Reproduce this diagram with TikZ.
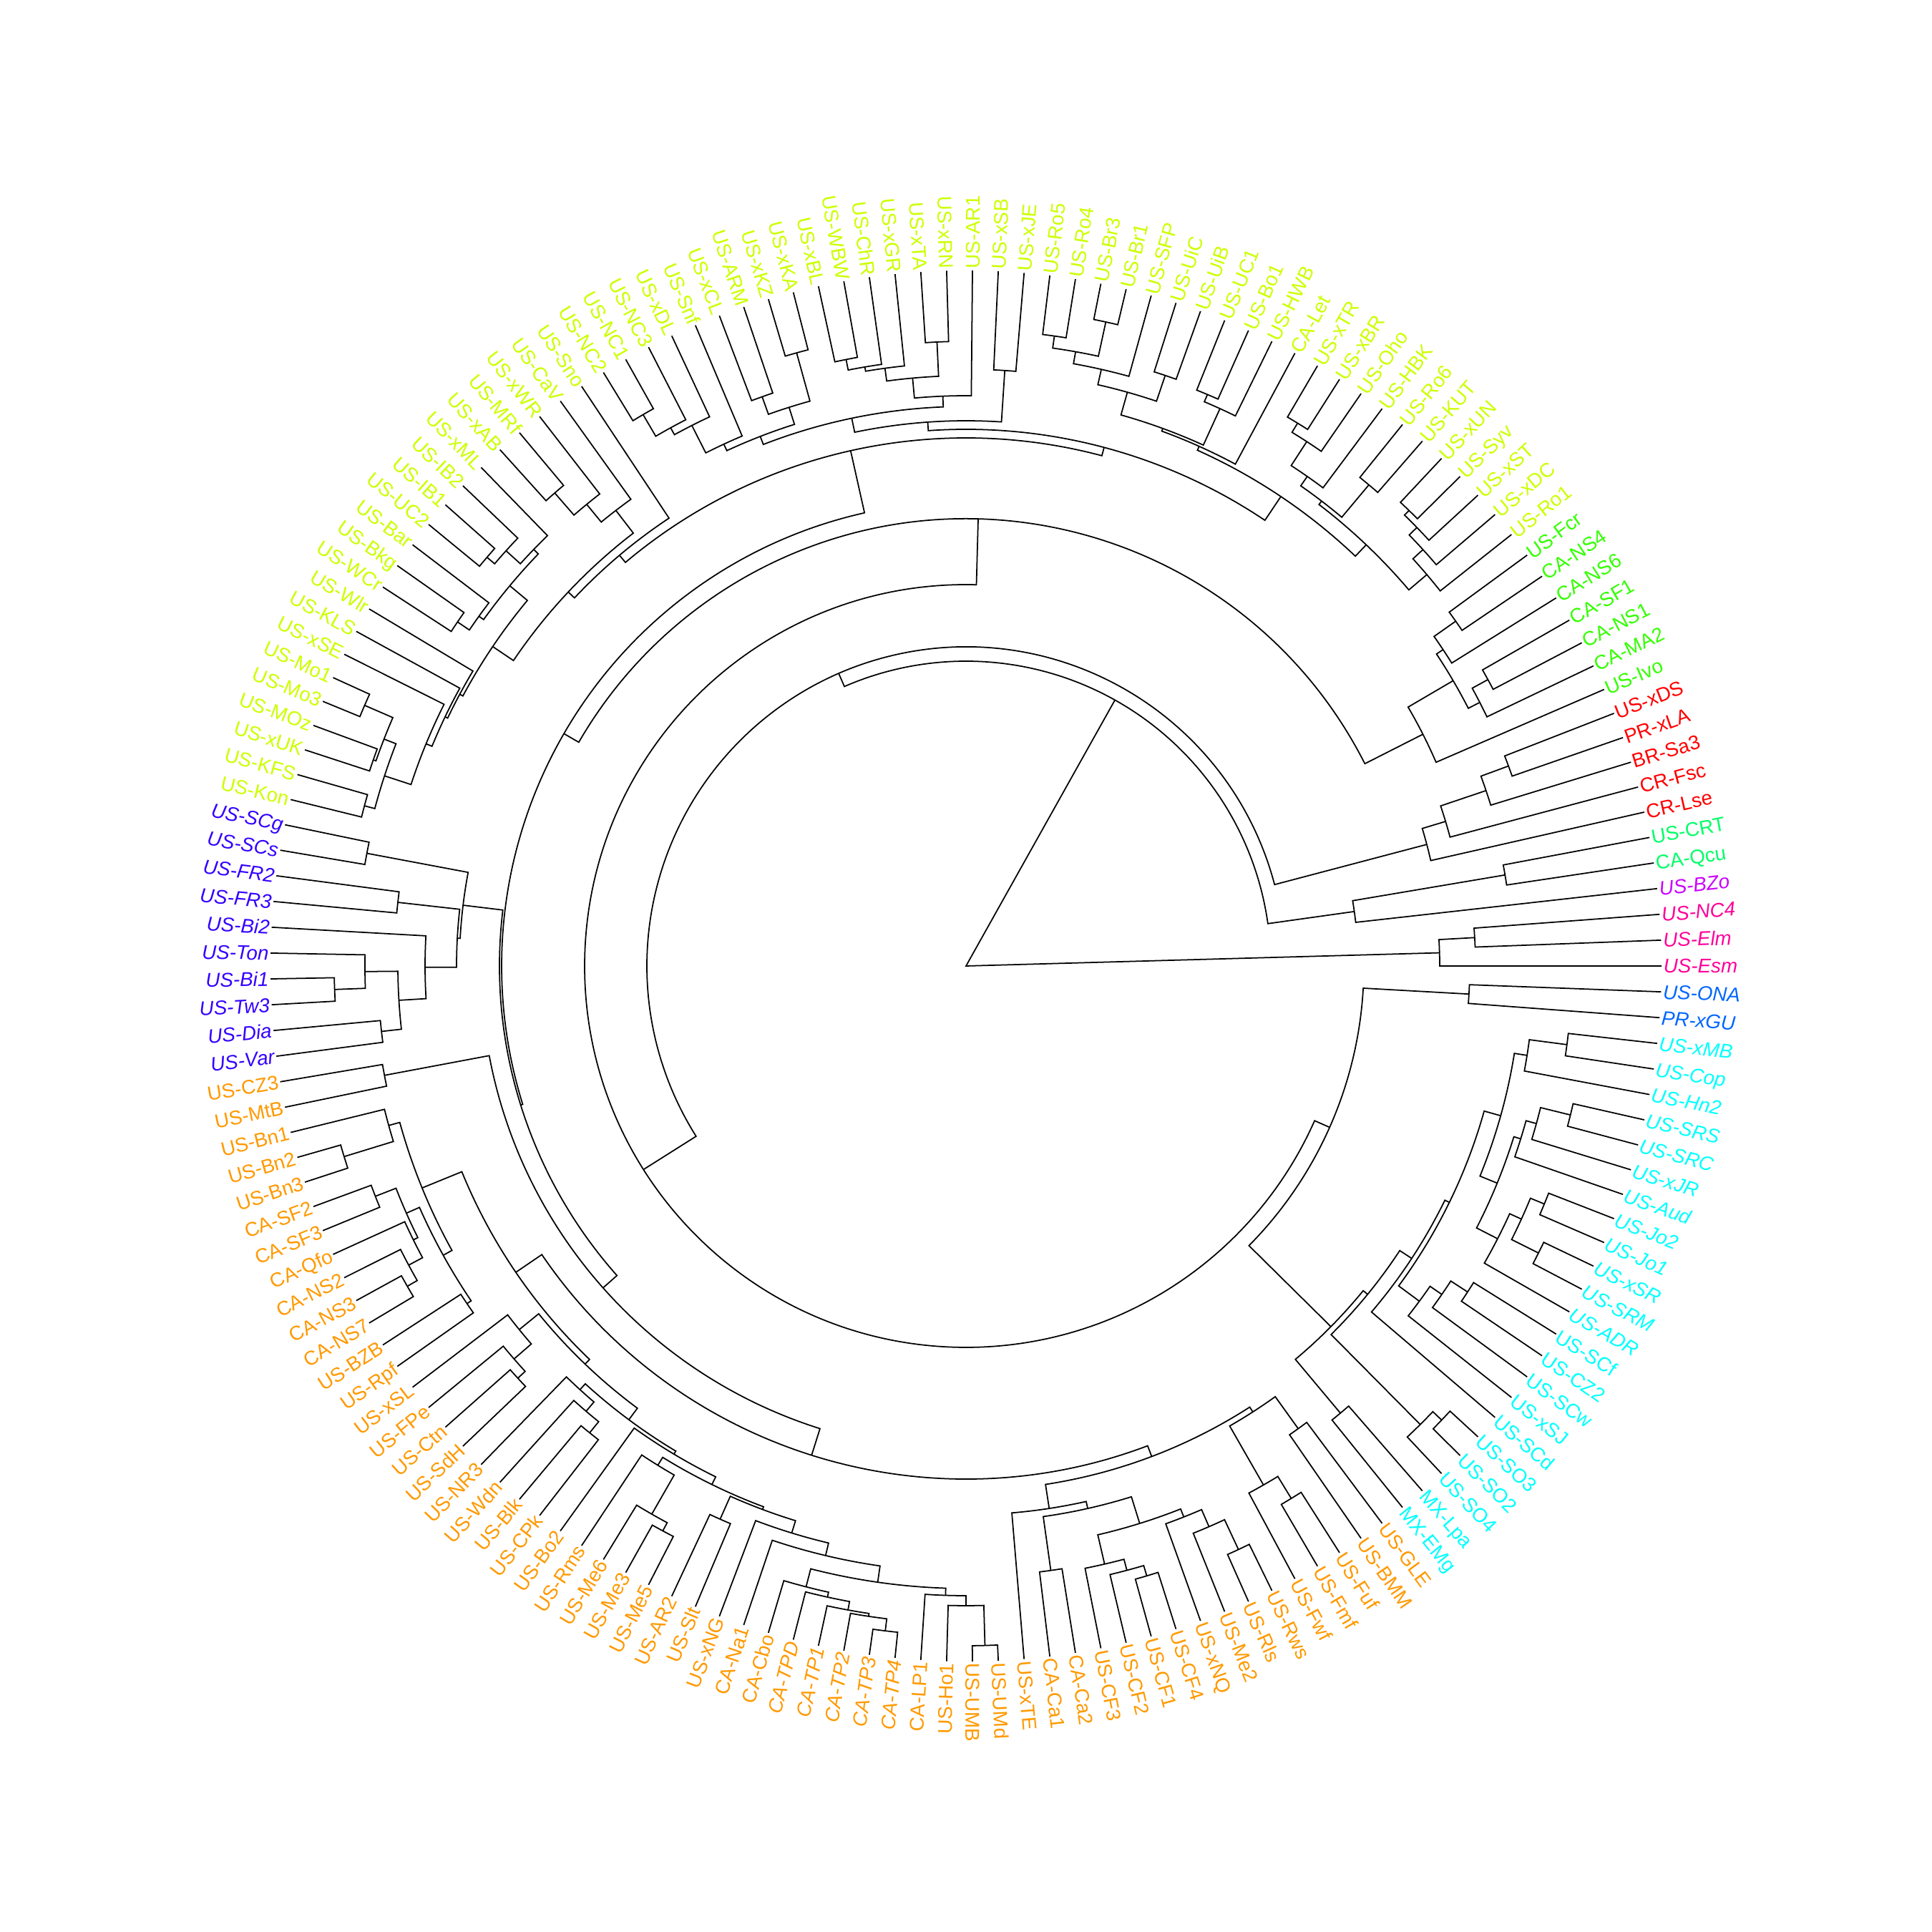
\documentclass[tikz,border=0pt]{standalone}
\usepackage{fontspec}
\setmainfont{Liberation Sans}
\definecolor{redR}{HTML}{FF0000}
\definecolor{orangeR}{HTML}{FF9900}
\definecolor{limeR}{HTML}{CCFF00}
\definecolor{greenR}{HTML}{33FF00}
\definecolor{springR}{HTML}{00FF66}
\definecolor{cyanR}{HTML}{00FFFF}
\definecolor{azureR}{HTML}{0066FF}
\definecolor{blueR}{HTML}{3300FF}
\definecolor{violetR}{HTML}{CC00FF}
\definecolor{pinkR}{HTML}{FF0099}
\tikzset{
  branch/.style={line width=0.5pt, black},
  lblup/.style={inner xsep=0.6pt, inner ysep=0pt, text height=5.66pt, text depth=0pt,
    font=\fontsize{7.9}{9}\selectfont},
  lblit/.style={lblup, font=\fontsize{7.9}{9}\selectfont\itshape},
}
\newcommand\leafrad{9.72}
% tip: name, index, colour, style, text
\newcommand\tip[5]{%
  \pgfmathsetmacro\tipang{#2*2.13017751}%
  \expandafter\xdef\csname ang@#1\endcsname{\tipang}%
  \coordinate (#1) at (\tipang:\leafrad);
  \ifdim\tipang pt>90pt \ifdim\tipang pt<270pt
    \node[#4, text=#3, anchor=east, rotate=\tipang+180] (#1-l) at (#1) {#5};
  \else
    \node[#4, text=#3, anchor=west, rotate=\tipang] (#1-l) at (#1) {#5};
  \fi \else
    \node[#4, text=#3, anchor=west, rotate=\tipang] (#1-l) at (#1) {#5};
  \fi}
% clade: name, child, child, radius in px
\newcommand\clade[4]{%
  \edef\angA{\csname ang@#2\endcsname}%
  \edef\angB{\csname ang@#3\endcsname}%
  \pgfmathsetmacro\radN{#4/100}%
  \pgfmathsetmacro\angN{(\angA+\angB)/2}%
  \draw[branch] (#2) -- (\angA:\radN) arc[start angle=\angA, end angle=\angB, radius=\radN] -- (#3);
  \expandafter\xdef\csname ang@#1\endcsname{\angN}%
  \coordinate (#1) at (\angN:\radN);}

\begin{document}
\begin{tikzpicture}
\useasboundingbox (-13.5,-13.5) rectangle (13.5,13.5);
% tips
\tip{Esm}{0}{pinkR}{lblit}{US-Esm}
\tip{Elm}{1}{pinkR}{lblit}{US-Elm}
\tip{NC4}{2}{pinkR}{lblit}{US-NC4}
\tip{BZo}{3}{violetR}{lblit}{US-BZo}
\tip{Qcu}{4}{springR}{lblup}{CA-Qcu}
\tip{CRT}{5}{springR}{lblup}{US-CRT}
\tip{Lse}{6}{redR}{lblup}{CR-Lse}
\tip{Fsc}{7}{redR}{lblup}{CR-Fsc}
\tip{Sa3}{8}{redR}{lblup}{BR-Sa3}
\tip{xLA}{9}{redR}{lblup}{PR-xLA}
\tip{xDS}{10}{redR}{lblup}{US-xDS}
\tip{Ivo}{11}{greenR}{lblup}{US-Ivo}
\tip{MA2}{12}{greenR}{lblup}{CA-MA2}
\tip{NS1}{13}{greenR}{lblup}{CA-NS1}
\tip{SF1}{14}{greenR}{lblup}{CA-SF1}
\tip{NS6}{15}{greenR}{lblup}{CA-NS6}
\tip{NS4}{16}{greenR}{lblup}{CA-NS4}
\tip{Fcr}{17}{greenR}{lblup}{US-Fcr}
\tip{Ro1}{18}{limeR}{lblup}{US-Ro1}
\tip{xDC}{19}{limeR}{lblup}{US-xDC}
\tip{xST}{20}{limeR}{lblup}{US-xST}
\tip{Syv}{21}{limeR}{lblup}{US-Syv}
\tip{xUN}{22}{limeR}{lblup}{US-xUN}
\tip{KUT}{23}{limeR}{lblup}{US-KUT}
\tip{Ro6}{24}{limeR}{lblup}{US-Ro6}
\tip{HBK}{25}{limeR}{lblup}{US-HBK}
\tip{Oho}{26}{limeR}{lblup}{US-Oho}
\tip{xBR}{27}{limeR}{lblup}{US-xBR}
\tip{xTR}{28}{limeR}{lblup}{US-xTR}
\tip{Let}{29}{limeR}{lblup}{CA-Let}
\tip{HWB}{30}{limeR}{lblup}{US-HWB}
\tip{Bo1}{31}{limeR}{lblup}{US-Bo1}
\tip{UC1}{32}{limeR}{lblup}{US-UC1}
\tip{UiB}{33}{limeR}{lblup}{US-UiB}
\tip{UiC}{34}{limeR}{lblup}{US-UiC}
\tip{SFP}{35}{limeR}{lblup}{US-SFP}
\tip{Br1}{36}{limeR}{lblup}{US-Br1}
\tip{Br3}{37}{limeR}{lblup}{US-Br3}
\tip{Ro4}{38}{limeR}{lblup}{US-Ro4}
\tip{Ro5}{39}{limeR}{lblup}{US-Ro5}
\tip{xJE}{40}{limeR}{lblup}{US-xJE}
\tip{xSB}{41}{limeR}{lblup}{US-xSB}
\tip{AR1}{42}{limeR}{lblup}{US-AR1}
\tip{xRN}{43}{limeR}{lblup}{US-xRN}
\tip{xTA}{44}{limeR}{lblup}{US-xTA}
\tip{xGR}{45}{limeR}{lblup}{US-xGR}
\tip{ChR}{46}{limeR}{lblup}{US-ChR}
\tip{WBW}{47}{limeR}{lblup}{US-WBW}
\tip{xBL}{48}{limeR}{lblup}{US-xBL}
\tip{xKA}{49}{limeR}{lblup}{US-xKA}
\tip{xKZ}{50}{limeR}{lblup}{US-xKZ}
\tip{ARM}{51}{limeR}{lblup}{US-ARM}
\tip{xCL}{52}{limeR}{lblup}{US-xCL}
\tip{Snf}{53}{limeR}{lblup}{US-Snf}
\tip{xDL}{54}{limeR}{lblup}{US-xDL}
\tip{NC3}{55}{limeR}{lblup}{US-NC3}
\tip{NC1}{56}{limeR}{lblup}{US-NC1}
\tip{NC2}{57}{limeR}{lblup}{US-NC2}
\tip{Sno}{58}{limeR}{lblup}{US-Sno}
\tip{CaV}{59}{limeR}{lblup}{US-CaV}
\tip{xWR}{60}{limeR}{lblup}{US-xWR}
\tip{MRf}{61}{limeR}{lblup}{US-MRf}
\tip{xAB}{62}{limeR}{lblup}{US-xAB}
\tip{xML}{63}{limeR}{lblup}{US-xML}
\tip{IB2}{64}{limeR}{lblup}{US-IB2}
\tip{IB1}{65}{limeR}{lblup}{US-IB1}
\tip{UC2}{66}{limeR}{lblup}{US-UC2}
\tip{Bar}{67}{limeR}{lblup}{US-Bar}
\tip{Bkg}{68}{limeR}{lblup}{US-Bkg}
\tip{WCr}{69}{limeR}{lblup}{US-WCr}
\tip{Wlr}{70}{limeR}{lblup}{US-Wlr}
\tip{KLS}{71}{limeR}{lblup}{US-KLS}
\tip{xSE}{72}{limeR}{lblup}{US-xSE}
\tip{Mo1}{73}{limeR}{lblup}{US-Mo1}
\tip{Mo3}{74}{limeR}{lblup}{US-Mo3}
\tip{MOz}{75}{limeR}{lblup}{US-MOz}
\tip{xUK}{76}{limeR}{lblup}{US-xUK}
\tip{KFS}{77}{limeR}{lblup}{US-KFS}
\tip{Kon}{78}{limeR}{lblup}{US-Kon}
\tip{SCg}{79}{blueR}{lblit}{US-SCg}
\tip{SCs}{80}{blueR}{lblit}{US-SCs}
\tip{FR2}{81}{blueR}{lblit}{US-FR2}
\tip{FR3}{82}{blueR}{lblit}{US-FR3}
\tip{Bi2}{83}{blueR}{lblit}{US-Bi2}
\tip{Ton}{84}{blueR}{lblit}{US-Ton}
\tip{Bi1}{85}{blueR}{lblit}{US-Bi1}
\tip{Tw3}{86}{blueR}{lblit}{US-Tw3}
\tip{Dia}{87}{blueR}{lblit}{US-Dia}
\tip{Var}{88}{blueR}{lblit}{US-Var}
\tip{CZ3}{89}{orangeR}{lblup}{US-CZ3}
\tip{MtB}{90}{orangeR}{lblup}{US-MtB}
\tip{Bn1}{91}{orangeR}{lblup}{US-Bn1}
\tip{Bn2}{92}{orangeR}{lblup}{US-Bn2}
\tip{Bn3}{93}{orangeR}{lblup}{US-Bn3}
\tip{SF2}{94}{orangeR}{lblup}{CA-SF2}
\tip{SF3}{95}{orangeR}{lblup}{CA-SF3}
\tip{Qfo}{96}{orangeR}{lblup}{CA-Qfo}
\tip{NS2}{97}{orangeR}{lblup}{CA-NS2}
\tip{NS3}{98}{orangeR}{lblup}{CA-NS3}
\tip{NS7}{99}{orangeR}{lblup}{CA-NS7}
\tip{BZB}{100}{orangeR}{lblup}{US-BZB}
\tip{Rpf}{101}{orangeR}{lblup}{US-Rpf}
\tip{xSL}{102}{orangeR}{lblup}{US-xSL}
\tip{FPe}{103}{orangeR}{lblup}{US-FPe}
\tip{Ctn}{104}{orangeR}{lblup}{US-Ctn}
\tip{SdH}{105}{orangeR}{lblup}{US-SdH}
\tip{NR3}{106}{orangeR}{lblup}{US-NR3}
\tip{Wdn}{107}{orangeR}{lblup}{US-Wdn}
\tip{Blk}{108}{orangeR}{lblup}{US-Blk}
\tip{CPk}{109}{orangeR}{lblup}{US-CPk}
\tip{Bo2}{110}{orangeR}{lblup}{US-Bo2}
\tip{Rms}{111}{orangeR}{lblup}{US-Rms}
\tip{Me6}{112}{orangeR}{lblup}{US-Me6}
\tip{Me3}{113}{orangeR}{lblup}{US-Me3}
\tip{Me5}{114}{orangeR}{lblup}{US-Me5}
\tip{AR2}{115}{orangeR}{lblup}{US-AR2}
\tip{Slt}{116}{orangeR}{lblup}{US-Slt}
\tip{xNG}{117}{orangeR}{lblup}{US-xNG}
\tip{Na1}{118}{orangeR}{lblup}{CA-Na1}
\tip{Cbo}{119}{orangeR}{lblup}{CA-Cbo}
\tip{TPD}{120}{orangeR}{lblit}{CA-TPD}
\tip{TP1}{121}{orangeR}{lblit}{CA-TP1}
\tip{TP2}{122}{orangeR}{lblit}{CA-TP2}
\tip{TP3}{123}{orangeR}{lblit}{CA-TP3}
\tip{TP4}{124}{orangeR}{lblit}{CA-TP4}
\tip{LP1}{125}{orangeR}{lblup}{CA-LP1}
\tip{Ho1}{126}{orangeR}{lblup}{US-Ho1}
\tip{UMB}{127}{orangeR}{lblup}{US-UMB}
\tip{UMd}{128}{orangeR}{lblup}{US-UMd}
\tip{xTE}{129}{orangeR}{lblup}{US-xTE}
\tip{Ca1}{130}{orangeR}{lblup}{CA-Ca1}
\tip{Ca2}{131}{orangeR}{lblup}{CA-Ca2}
\tip{CF3}{132}{orangeR}{lblup}{US-CF3}
\tip{CF2}{133}{orangeR}{lblup}{US-CF2}
\tip{CF1}{134}{orangeR}{lblup}{US-CF1}
\tip{CF4}{135}{orangeR}{lblup}{US-CF4}
\tip{xNQ}{136}{orangeR}{lblup}{US-xNQ}
\tip{Me2}{137}{orangeR}{lblup}{US-Me2}
\tip{Rls}{138}{orangeR}{lblup}{US-Rls}
\tip{Rws}{139}{orangeR}{lblup}{US-Rws}
\tip{Fwf}{140}{orangeR}{lblup}{US-Fwf}
\tip{Fmf}{141}{orangeR}{lblup}{US-Fmf}
\tip{Fuf}{142}{orangeR}{lblup}{US-Fuf}
\tip{BMM}{143}{orangeR}{lblup}{US-BMM}
\tip{GLE}{144}{orangeR}{lblup}{US-GLE}
\tip{EMg}{145}{cyanR}{lblup}{MX-EMg}
\tip{Lpa}{146}{cyanR}{lblup}{MX-Lpa}
\tip{SO4}{147}{cyanR}{lblup}{US-SO4}
\tip{SO2}{148}{cyanR}{lblup}{US-SO2}
\tip{SO3}{149}{cyanR}{lblup}{US-SO3}
\tip{SCd}{150}{cyanR}{lblup}{US-SCd}
\tip{xSJ}{151}{cyanR}{lblup}{US-xSJ}
\tip{SCw}{152}{cyanR}{lblup}{US-SCw}
\tip{CZ2}{153}{cyanR}{lblup}{US-CZ2}
\tip{SCf}{154}{cyanR}{lblup}{US-SCf}
\tip{ADR}{155}{cyanR}{lblit}{US-ADR}
\tip{SRM}{156}{cyanR}{lblit}{US-SRM}
\tip{xSR}{157}{cyanR}{lblit}{US-xSR}
\tip{Jo1}{158}{cyanR}{lblit}{US-Jo1}
\tip{Jo2}{159}{cyanR}{lblit}{US-Jo2}
\tip{Aud}{160}{cyanR}{lblit}{US-Aud}
\tip{xJR}{161}{cyanR}{lblit}{US-xJR}
\tip{SRC}{162}{cyanR}{lblit}{US-SRC}
\tip{SRS}{163}{cyanR}{lblit}{US-SRS}
\tip{Hn2}{164}{cyanR}{lblit}{US-Hn2}
\tip{Cop}{165}{cyanR}{lblit}{US-Cop}
\tip{xMB}{166}{cyanR}{lblit}{US-xMB}
\tip{xGU}{167}{azureR}{lblit}{PR-xGU}
\tip{ONA}{168}{azureR}{lblit}{US-ONA}
% pink, violet and spring green
\clade{cE1}{NC4}{Elm}{712}
\clade{cE2}{Esm}{cE1}{662}
\clade{cQ1}{CRT}{Qcu}{764}
\clade{cQ2}{cQ1}{BZo}{548}
% red
\clade{cR1}{xDS}{xLA}{808}
\clade{cR2}{cR1}{Sa3}{767}
\clade{cR3}{cR2}{Fsc}{700}
\clade{cR4}{cR3}{Lse}{666}
% green
\clade{cG1}{Fcr}{NS4}{837}
\clade{cG2}{cG1}{NS6}{800}
\clade{cG3}{SF1}{NS1}{832}
\clade{cG4}{cG3}{MA2}{807}
\clade{cG5}{cG2}{cG4}{789}
\clade{cG6}{cG5}{Ivo}{716}
% yellow, right part
\clade{cY1}{xUN}{Syv}{888}
\clade{cY2}{cY1}{xST}{879}
\clade{cY3}{cY2}{xDC}{864}
\clade{cY4}{cY3}{Ro1}{845}
\clade{cK1}{Ro6}{KUT}{877}
\clade{cK4}{xBR}{xTR}{889}
\clade{cK2}{Oho}{cK4}{874}
\clade{cK3}{HBK}{cK2}{834}
\clade{cK5}{cK1}{cK3}{818}
\clade{cY5}{cY4}{cK5}{812}
\clade{cU1}{UC1}{Bo1}{867}
\clade{cU2}{cU1}{HWB}{856}
\clade{cU3}{UiB}{UiC}{871}
\clade{cU4}{Ro4}{Ro5}{889}
\clade{cU5}{Br1}{Br3}{921}
\clade{cU6}{cU4}{cU5}{872}
\clade{cU7}{cU6}{SFP}{855}
\clade{cU8}{cU7}{cU3}{833}
\clade{cU9}{cU8}{cU2}{800}
\clade{cT}{cU9}{Let}{796}
\clade{cQ56}{cY5}{cT}{790}
% yellow, top part
\clade{cV1}{xJE}{xSB}{834}
\clade{cV2}{xRN}{xTA}{873}
\clade{cV3}{xBL}{WBW}{864}
\clade{cV4}{cV3}{ChR}{849}
\clade{cV5}{cV4}{xGR}{843}
\clade{cV6}{cV5}{cV2}{825}
\clade{cV7}{cV6}{AR1}{797}
\clade{cW1}{xKA}{xKZ}{889}
\clade{cW2}{ARM}{xCL}{845}
\clade{cW3}{cW1}{cW2}{819}
\clade{cW4}{NC1}{NC2}{893}
\clade{cW5}{cW4}{NC3}{858}
\clade{cW6}{cW5}{xDL}{847}
\clade{cW7}{cW6}{Snf}{804}
\clade{cW8}{cW7}{cW3}{794}
\clade{cW9}{cV7}{cW8}{782}
\clade{cZ}{cV1}{cW9}{762}
\clade{cYR}{cQ56}{cZ}{750}
% yellow, left part
\clade{cS1}{MRf}{xAB}{876}
\clade{cS2}{xWR}{cS1}{835}
\clade{cS3}{CaV}{cS2}{803}
\clade{cL1}{IB1}{UC2}{880}
\clade{cL2}{IB2}{cL1}{866}
\clade{cL3}{xML}{cL2}{839}
\clade{cL4}{Bkg}{WCr}{858}
\clade{cL5}{Bar}{cL4}{838}
\clade{cL6}{cL3}{cL5}{830}
\clade{cM1}{Mo1}{Mo3}{916}
\clade{cM2}{MOz}{xUK}{877}
\clade{cM3}{cM1}{cM2}{873}
\clade{cM4}{KFS}{Kon}{870}
\clade{cM5}{cM3}{cM4}{855}
\clade{cM6}{xSE}{cM5}{816}
\clade{cM7}{KLS}{cM6}{807}
\clade{cM8}{Wlr}{cM7}{803}
\clade{cL7}{cL6}{cM8}{798}
\clade{cL8}{cS3}{cL7}{763}
\clade{cYL}{Sno}{cL8}{751}
\clade{cY103}{cYR}{cYL}{738}
% blue
\clade{cB1}{SCg}{SCs}{852}
\clade{cB2}{FR2}{FR3}{799}
\clade{cB3}{Bi1}{Tw3}{883}
\clade{cB4}{Ton}{cB3}{840}
\clade{cB5}{Dia}{Var}{822}
\clade{cB6}{cB4}{cB5}{794}
\clade{cB7}{Bi2}{cB6}{756}
\clade{cB8}{cB2}{cB7}{712}
\clade{cB9}{cB1}{cB8}{708}
% orange, left part
\clade{cO1}{CZ3}{MtB}{827}
\clade{cN1}{Bn2}{Bn3}{909}
\clade{cN2}{Bn1}{cN1}{837}
\clade{cN3}{SF2}{SF3}{886}
\clade{cN4}{NS3}{NS7}{900}
\clade{cN5}{NS2}{cN4}{884}
\clade{cN6}{Qfo}{cN5}{862}
\clade{cN7}{cN3}{cN6}{855}
\clade{cN8}{BZB}{Rpf}{842}
\clade{cN9}{cN7}{cN8}{835}
\clade{cN10}{cN2}{cN9}{821}
\clade{cP1}{Ctn}{SdH}{851}
\clade{cP2}{FPe}{cP1}{837}
\clade{cP3}{xSL}{cP2}{805}
\clade{cP4}{Blk}{CPk}{838}
\clade{cP5}{Wdn}{cP4}{818}
\clade{cP6}{NR3}{cP5}{801}
\clade{cP7}{Me3}{Me5}{896}
\clade{cP8}{Me6}{cP7}{883}
\clade{cP9}{Rms}{cP8}{820}
\clade{cT1}{TP3}{TP4}{936}
\clade{cT2}{TP2}{cT1}{919}
\clade{cT3}{TP1}{cT2}{915}
\clade{cT4}{TPD}{cT3}{903}
\clade{cT5}{Cbo}{cT4}{896}
\clade{cT6}{UMB}{UMd}{950}
\clade{cT7}{Ho1}{cT6}{894}
\clade{cT8}{LP1}{cT7}{880}
\clade{cT9}{cT5}{cT8}{870}
\clade{cT10}{Na1}{cT9}{847}
\clade{cT11}{xNG}{cT10}{829}
\clade{cT12}{AR2}{Slt}{846}
\clade{cT13}{cT12}{cT11}{811}
\clade{cP10}{cP9}{cT13}{807}
\clade{cP11}{Bo2}{cP10}{795}
\clade{cP12}{cP6}{cP11}{790}
\clade{cP13}{cP3}{cP12}{770}
\clade{cZ214}{cN10}{cP13}{761}
% orange, right part
\clade{cF1}{Ca1}{Ca2}{853}
\clade{cF2}{CF1}{CF4}{889}
\clade{cF3}{CF2}{cF2}{874}
\clade{cF4}{CF3}{cF3}{858}
\clade{cF5}{Rls}{Rws}{900}
\clade{cF6}{Me2}{cF5}{854}
\clade{cF7}{xNQ}{cF6}{828}
\clade{cF8}{cF4}{cF7}{816}
\clade{cF9}{cF1}{cF8}{777}
\clade{cF10}{xTE}{cF9}{767}
\clade{cH1}{Fmf}{Fuf}{872}
\clade{cH2}{Fwf}{cH1}{836}
\clade{cH3}{BMM}{GLE}{796}
\clade{cH4}{cH2}{cH3}{741}
\clade{cX733}{cF10}{cH4}{733}
\clade{cY252}{cZ214}{cX733}{717}
\clade{cO222}{cO1}{cY252}{678}
\clade{cO197}{cB9}{cO222}{652}
\clade{cX150}{cY103}{cO197}{649}
\clade{cX88}{cG6}{cX150}{625}
% cyan and azure
\clade{cC1}{Cop}{xMB}{847}
\clade{cC2}{Hn2}{cC1}{794}
\clade{cC3}{SRC}{SRS}{870}
\clade{cC4}{xJR}{cC3}{827}
\clade{cC5}{Aud}{cC4}{812}
\clade{cC6}{Jo1}{Jo2}{874}
\clade{cC7}{SRM}{xSR}{895}
\clade{cC8}{cC7}{cC6}{853}
\clade{cC9}{ADR}{cC8}{835}
\clade{cC10}{cC9}{cC5}{802}
\clade{cC11}{cC10}{cC2}{776}
\clade{cC12}{CZ2}{SCf}{836}
\clade{cC13}{SCw}{cC12}{808}
\clade{cC14}{xSJ}{cC13}{788}
\clade{cC15}{cC14}{cC11}{752}
\clade{cC16}{SCd}{cC15}{745}
\clade{cC17}{SO2}{SO3}{919}
\clade{cC18}{SO4}{cC17}{902}
\clade{cC19}{cC18}{cC16}{725}
\clade{cC20}{EMg}{Lpa}{815}
\clade{cC315}{cC20}{cC19}{717}
\clade{cA1}{xGU}{ONA}{704}
\clade{cC336}{cC315}{cA1}{556}
% backbone
\clade{cB}{cX88}{cC336}{533}
\clade{cN113}{cR4}{cB}{446}
\clade{cBIG}{cQ2}{cN113}{426}
\draw[branch] (cE2) -- (0,0) -- (cBIG);
\end{tikzpicture}
\end{document}
